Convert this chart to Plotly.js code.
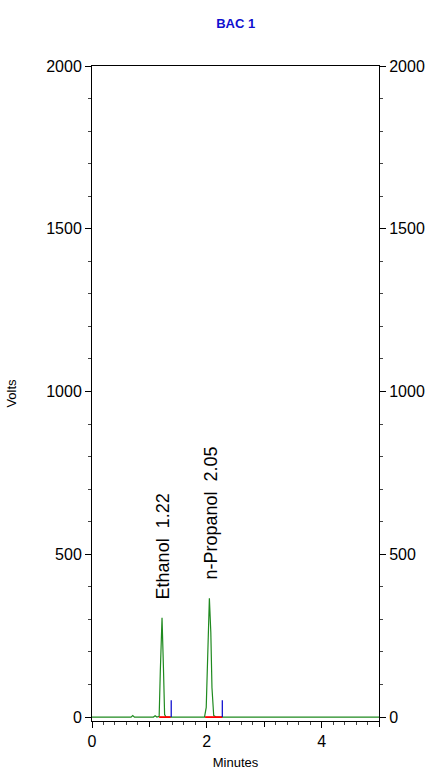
<!DOCTYPE html>
<html>
<head>
<meta charset="utf-8">
<script src="https://cdn.plot.ly/plotly-3.0.1.min.js"></script>
<style>html,body{margin:0;padding:0;background:#fff;}#chart{width:438px;height:776px;}</style>
</head>
<body>
<div id="chart"></div>
<script>
// Chromatogram signal (minutes, volts)
const signalTime  = [0, 0.68, 0.71, 0.74, 1.07, 1.10, 1.13, 1.17, 1.19, 1.22, 1.245, 1.265, 1.29, 1.96, 1.99, 2.02, 2.045, 2.07, 2.09, 2.12, 2.16, 5];
const signalVolts = [0, 0,    5,    0,    0,    4,    0,    2,    140,  305,  150,   8,     0,    0,    30,   220,  365,   260,  90,   5,    0,    0];
// Peak integration baselines (red) and peak end markers (blue)
const baseStart   = [1.17, 1.97];
const baseEnd     = [1.37, 2.27];
const markerTime  = [1.38, 2.27];
const markerVolts = [52, 52];
// Peak labels
const peakNames   = ["Ethanol", "n-Propanol"];
const peakTimes   = [1.22, 2.05];
const labelX      = [1.235, 2.075];
const labelY      = [355, 415];

const traces = [];
traces.push({x: signalTime, y: signalVolts, type: 'scatter', mode: 'lines',
  line: {color: '#1f8a1f', width: 1.2}, hoverinfo: 'skip', showlegend: false});
for (let i = 0; i < baseStart.length; i++) {
  traces.push({x: [baseStart[i], baseEnd[i]], y: [0, 0], type: 'scatter', mode: 'lines',
    line: {color: '#ff0000', width: 1.8}, showlegend: false});
  traces.push({x: [markerTime[i], markerTime[i]], y: [0, markerVolts[i]], type: 'scatter', mode: 'lines',
    line: {color: '#0000cc', width: 1.2}, showlegend: false});
}
// dummy trace for right axis
traces.push({x: [0], y: [0], yaxis: 'y2', mode: 'none', showlegend: false, hoverinfo: 'skip'});
// dummy trace for medium x ticks
traces.push({x: [0], y: [0], xaxis: 'x2', mode: 'none', showlegend: false, hoverinfo: 'skip'});

const fnt = {family: 'Arial, "Liberation Sans", sans-serif', color: '#000'};
const annotations = peakNames.map((n, i) => ({
  x: labelX[i], y: labelY[i], xref: 'x', yref: 'y',
  text: n + '\u00a0\u00a0' + peakTimes[i].toFixed(2),
  textangle: -90, showarrow: false, xanchor: 'center', yanchor: 'bottom',
  font: Object.assign({}, fnt, {size: 18})
}));

const layout = {
  width: 438, height: 776,
  margin: {l: 92, r: 59, t: 66, b: 55},
  paper_bgcolor: '#fff', plot_bgcolor: '#fff',
  showlegend: false,
  title: {text: '<b>BAC 1</b>', x: 0.538, xanchor: 'center', y: 0.97, yanchor: 'middle',
    font: {family: 'Arial, "Liberation Sans", sans-serif', size: 13, color: '#1010d0'}},
  xaxis: {range: [0, 5], dtick: 2, tick0: 0, showgrid: false, zeroline: false,
    showline: true, linecolor: '#000', linewidth: 1, mirror: true,
    ticks: 'outside', ticklen: 6, tickcolor: '#000',
    minor: {dtick: 0.2, tick0: 0, ticks: 'outside', ticklen: 3, tickcolor: '#444', showgrid: false},
    tickfont: Object.assign({}, fnt, {size: 16}),
    title: {text: 'Minutes', font: Object.assign({}, fnt, {size: 13}), standoff: 8}},
  xaxis2: {range: [0, 5], overlaying: 'x', dtick: 1, tick0: 1, side: 'bottom', showgrid: false, zeroline: false,
    showline: false, showticklabels: false, ticks: 'outside', ticklen: 5, tickcolor: '#000'},
  yaxis: {range: [-12, 2000], dtick: 500, tick0: 0, showgrid: false, zeroline: false,
    showline: true, linecolor: '#000', linewidth: 1,
    ticks: 'outside', ticklen: 6, tickcolor: '#000',
    minor: {dtick: 100, tick0: 0, ticks: 'outside', ticklen: 3, tickcolor: '#444', showgrid: false},
    tickfont: Object.assign({}, fnt, {size: 16}),
    title: {text: 'Volts', font: Object.assign({}, fnt, {size: 13}), standoff: 26}},
  yaxis2: {range: [-12, 2000], overlaying: 'y', side: 'right', dtick: 500, tick0: 0,
    showgrid: false, zeroline: false, showline: true, linecolor: '#000', linewidth: 1,
    ticks: 'outside', ticklen: 6, tickcolor: '#000',
    minor: {dtick: 100, tick0: 0, ticks: 'outside', ticklen: 3, tickcolor: '#444', showgrid: false},
    tickfont: Object.assign({}, fnt, {size: 16})},
  annotations: annotations
};
Plotly.newPlot('chart', traces, layout, {displayModeBar: false, staticPlot: true});
</script>
</body>
</html>
